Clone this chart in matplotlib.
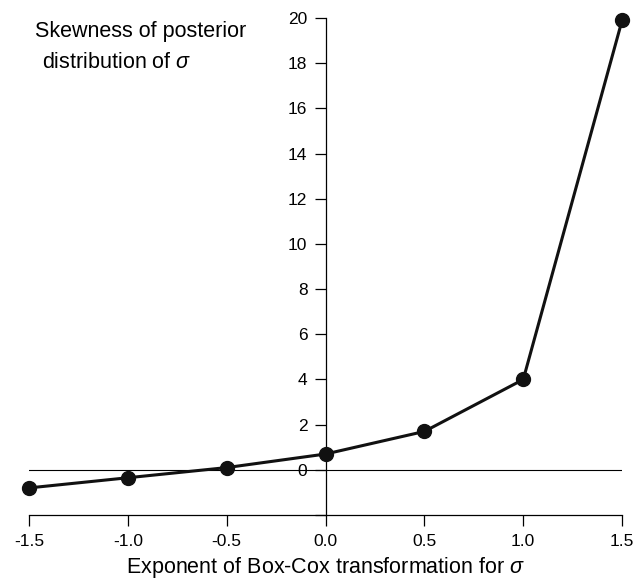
import numpy as np
import matplotlib
matplotlib.use("Agg")
import matplotlib.pyplot as plt

plt.rcParams['font.family'] = ['Liberation Sans', 'DejaVu Sans']
plt.rcParams['mathtext.fontset'] = 'custom'
plt.rcParams['mathtext.it'] = 'Liberation Sans:italic'
plt.rcParams['mathtext.rm'] = 'Liberation Sans'

# Box-Cox exponent vs skewness of posterior of sigma
exponents = [-1.5, -1.0, -0.5, 0.0, 0.5, 1.0, 1.5]
skewness = [-0.8, -0.35, 0.1, 0.7, 1.7, 4.0, 19.9]

x_ticks = [-1.5, -1.0, -0.5, 0.0, 0.5, 1.0, 1.5]
x_labels = ['-1.5', '-1.0', '-0.5', '0.0', '0.5', '1.0', '1.5']
y_ticks = [-2, 0, 2, 4, 6, 8, 10, 12, 14, 16, 18, 20]
y_labels = [''] + [str(v) for v in range(0, 21, 2)]

fig = plt.figure(figsize=(6.44, 5.83), dpi=100)
ax = fig.add_axes([0.045, 0.1166, 0.921, 0.8525])

ax.axhline(0, color='black', linewidth=0.8, zorder=1)
ax.plot(exponents, skewness, color='#111111', linewidth=2.2, marker='o',
        markersize=10, clip_on=False, zorder=3)

ax.set_xlim(-1.5, 1.5)
ax.set_ylim(-2, 20)

# R-style axes: y axis through x = 0
for s in ['top', 'right']:
    ax.spines[s].set_visible(False)
ax.spines['left'].set_position(('data', 0))
ax.spines['left'].set_bounds(-2, 20)
ax.spines['bottom'].set_bounds(-1.5, 1.5)
ax.spines['left'].set_linewidth(0.9)
ax.spines['bottom'].set_linewidth(0.9)

ax.set_xticks(x_ticks)
ax.set_xticklabels(x_labels)
ax.set_yticks(y_ticks)
ax.set_yticklabels(y_labels)
ax.tick_params(axis='both', length=8, width=0.9, labelsize=12.5)
ax.tick_params(axis='x', pad=6)
ax.tick_params(axis='y', pad=5)

ax.set_xlabel(r'Exponent of Box-Cox transformation for $\sigma$', fontsize=15.5,
              labelpad=4)

# y-axis caption, top left
fig.text(35 / 644, 1 - 32 / 583, 'Skewness of posterior',
         ha='left', va='center', fontsize=15.5)
fig.text(42 / 644, 1 - 62 / 583, 'distribution of $\\sigma$',
         ha='left', va='center', fontsize=15.5)

fig.savefig('out.png', dpi=100)
